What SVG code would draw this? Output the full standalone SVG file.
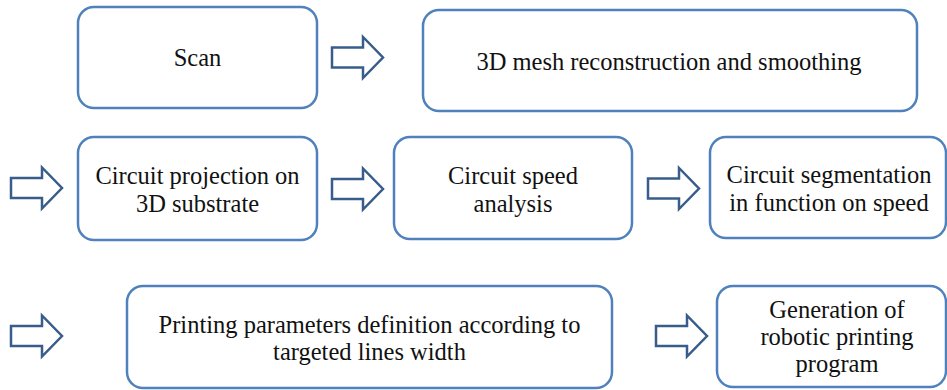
<svg xmlns="http://www.w3.org/2000/svg" width="947" height="390" viewBox="0 0 947 390">
<style>
.box{fill:#fff;stroke:#4f81bd;stroke-width:2.5}
.arr{fill:#fff;stroke:#385d8a;stroke-width:2.5;stroke-linejoin:miter}
text{font-family:"Liberation Serif","DejaVu Serif",serif;font-size:24.5px;fill:#111;text-anchor:middle}
</style>
<defs>
<path id="arrow" d="M0,-10 H31 V-20.5 L51,0 L31,20.5 V10 H0 Z"/>
</defs>
<rect width="947" height="390" fill="#fff"/>
<g id="connectors">
<use href="#arrow" class="arr" transform="translate(332,57.5)"/>
<use href="#arrow" class="arr" transform="translate(11,188)"/>
<use href="#arrow" class="arr" transform="translate(332,189)"/>
<use href="#arrow" class="arr" transform="translate(648,188.5)"/>
<use href="#arrow" class="arr" transform="translate(11,336)"/>
<use href="#arrow" class="arr" transform="translate(656,336)"/>
</g>
<g id="scan">
<rect class="box" x="78" y="7" width="239" height="101" rx="16"/>
<text x="197.5" y="66">Scan</text>
</g>
<g id="mesh">
<rect class="box" x="423" y="10" width="494" height="101" rx="16"/>
<text x="669" y="70">3D mesh reconstruction and smoothing</text>
</g>
<g id="projection">
<rect class="box" x="78" y="137" width="239" height="103" rx="16"/>
<text x="197.5" y="184">Circuit projection on</text>
<text x="197.5" y="212">3D substrate</text>
</g>
<g id="speed">
<rect class="box" x="394" y="137" width="238" height="102" rx="16"/>
<text x="513" y="184">Circuit speed</text>
<text x="513" y="212">analysis</text>
</g>
<g id="segmentation">
<rect class="box" x="710" y="137" width="236" height="101" rx="16"/>
<text x="829" y="183">Circuit segmentation</text>
<text x="829" y="211">in function on speed</text>
</g>
<g id="printing">
<rect class="box" x="127" y="286" width="485" height="102" rx="16"/>
<text x="369.5" y="333">Printing parameters definition according to</text>
<text x="369.5" y="360">targeted lines width</text>
</g>
<g id="generation">
<rect class="box" x="717" y="286" width="229" height="101" rx="16"/>
<text x="837" y="318">Generation of</text>
<text x="837" y="345">robotic printing</text>
<text x="837" y="372">program</text>
</g>
</svg>
